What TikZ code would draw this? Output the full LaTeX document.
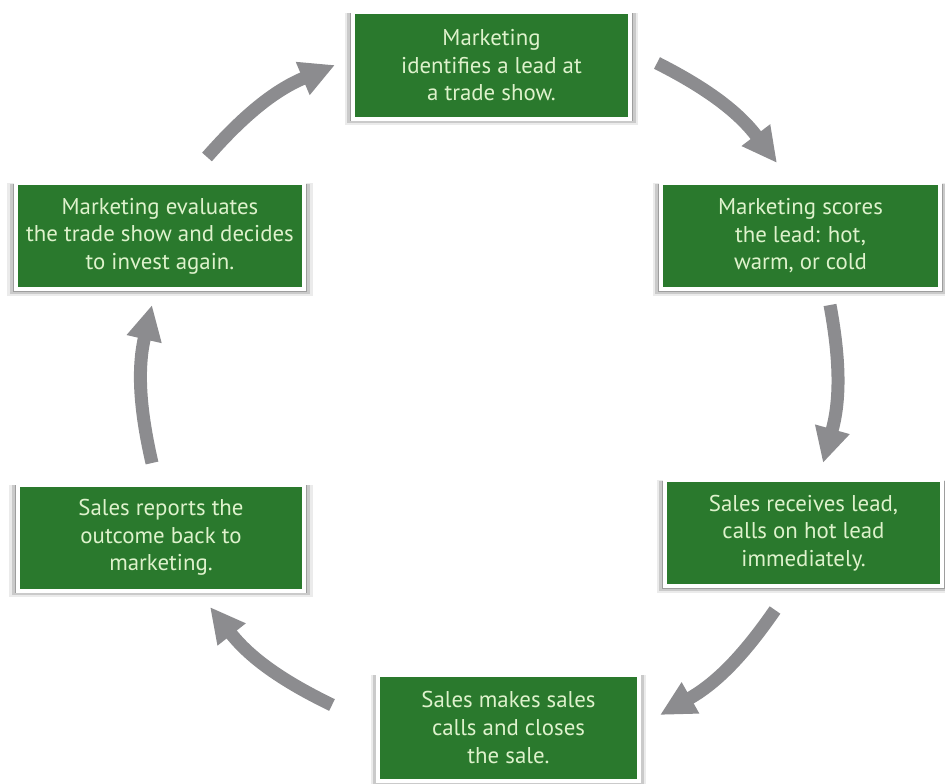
\documentclass[tikz,border=0pt]{standalone}
\usepackage{fontspec}
\setmainfont{PT Sans}
\usetikzlibrary{arrows.meta,positioning,shadows}
\definecolor{boxgreen}{RGB}{42,121,45}
\definecolor{boxtext}{RGB}{222,242,204}
\definecolor{arrgray}{RGB}{140,140,143}

\begin{document}
\begin{tikzpicture}[x=0.03cm,y=-0.03cm,every node/.style={font=\fontsize{19.5}{23.5}\selectfont},
 b/.style={fill=boxgreen,draw=white,line width=0.12cm,text=boxtext,align=center,inner sep=0pt,minimum height=3.18cm,
  general shadow={fill=black,opacity=0.08,shadow yshift=-0.1cm,shadow scale=1.06},
  general shadow={fill=black,opacity=0.14,shadow yshift=-0.08cm,shadow scale=1.04},
  general shadow={fill=black,opacity=0.22,shadow yshift=-0.05cm,shadow scale=1.02}},
 arr/.style={-{Triangle[length=1.05cm 0 0,width=1.0cm 0 0]},line width=0.39cm,arrgray}]
\useasboundingbox (0,0) rectangle (945,784);
\node[b,minimum width=8.31cm] (lead) at (491.5,65.5) {Marketing\\identifies a lead at\\a trade show.};
\node[b,minimum width=8.37cm] (score) at (800.5,236) {Marketing scores\\the lead: hot,\\warm, or cold};
\node[b,minimum width=8.31cm] (call) at (803.5,533) {Sales receives lead,\\calls on hot lead\\immediately.};
\node[b,minimum width=7.8cm] (close) at (508.5,727.5) {Sales makes sales\\calls and closes\\the sale.};
\node[b,minimum width=8.58cm] (report) at (161,537.5) {Sales reports the\\outcome back to\\marketing.};
\node[b,minimum width=8.64cm] (eval) at (160,236) {Marketing evaluates\\the trade show and decides\\to invest again.};
% arrow ends
\coordinate (lead-out) at (657,63);   \coordinate (score-in) at (777,163);
\coordinate (score-out) at (830,305); \coordinate (call-in) at (823,463);
\coordinate (call-out) at (775,610);  \coordinate (close-in) at (660,715);
\coordinate (close-out) at (332,705); \coordinate (report-in) at (210,607);
\coordinate (report-out) at (152,463);\coordinate (eval-in) at (152,305);
\coordinate (eval-out) at (207,157);  \coordinate (lead-in) at (335,65);
\draw[arr](lead-out) to[bend left=13] (score-in);
\draw[arr](score-out) to[bend left=13] (call-in);
\draw[arr](call-out) to[bend left=13] (close-in);
\draw[arr](close-out) to[bend left=13] (report-in);
\draw[arr](report-out) to[bend left=13] (eval-in);
\draw[arr](eval-out) to[bend left=13] (lead-in);
\end{tikzpicture}
\end{document}
